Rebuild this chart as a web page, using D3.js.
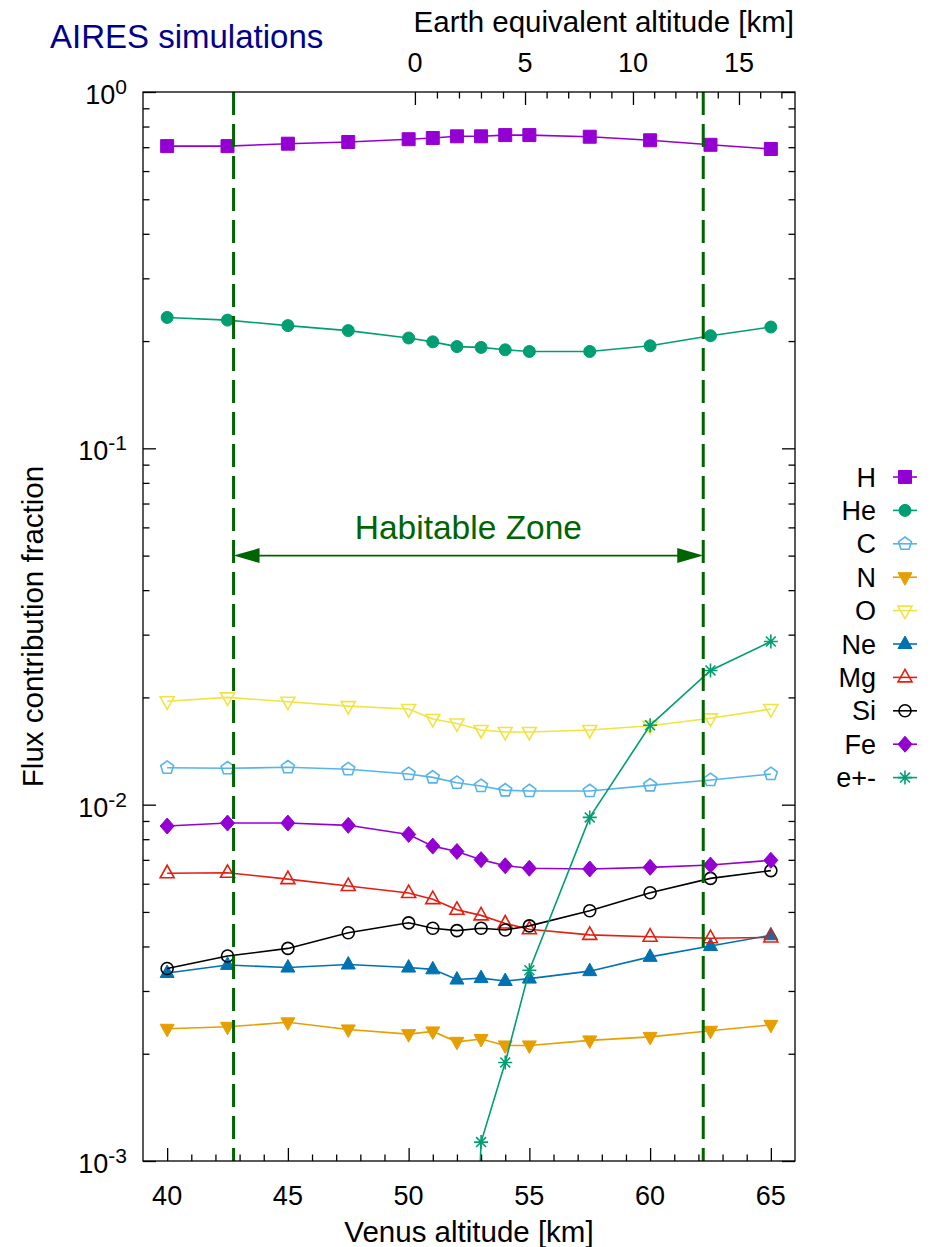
<!DOCTYPE html>
<html>
<head>
<meta charset="utf-8">
<script src="https://cdn.jsdelivr.net/npm/d3@7"></script>
<style>
    body { margin: 0; background: #fff; }
    svg { display: block; font-family: "Liberation Sans", Arial, sans-serif; }
</style>
</head>
<body>
<div class="chartCanvas"></div>
<script>
// values (flux contribution fraction per species)
const venusAltitude = [40, 42.5, 45, 47.5, 50, 51, 52, 53, 54, 55, 57.5, 60, 62.5, 65];
const fracH = [0.705, 0.705, 0.716, 0.724, 0.737, 0.743, 0.751, 0.751, 0.757, 0.757, 0.749, 0.732, 0.711, 0.692];
const fracHe = [0.233, 0.229, 0.221, 0.214, 0.204, 0.199, 0.193, 0.192, 0.189, 0.187, 0.187, 0.194, 0.207, 0.219];
const fracC = [0.0127, 0.01265, 0.01273, 0.01257, 0.01219, 0.01193, 0.01152, 0.01128, 0.01097, 0.01092, 0.01092, 0.01133, 0.01173, 0.01219];
const fracN = [0.00235, 0.00238, 0.00245, 0.00234, 0.00227, 0.00231, 0.00216, 0.0022, 0.00211, 0.00211, 0.00218, 0.00223, 0.00232, 0.00241];
const fracO = [0.0195, 0.0200, 0.01945, 0.0189, 0.01855, 0.0174, 0.0169, 0.0162, 0.0160, 0.0160, 0.0162, 0.01665, 0.01747, 0.01855];
const fracNe = [0.00337, 0.00355, 0.00349, 0.00356, 0.00349, 0.00345, 0.00323, 0.00326, 0.0032, 0.00325, 0.00341, 0.00374, 0.00401, 0.0043];
const fracMg = [0.00642, 0.00644, 0.00618, 0.00591, 0.00565, 0.00543, 0.00507, 0.00489, 0.00464, 0.00447, 0.00431, 0.00426, 0.00422, 0.00424];
const fracSi = [0.00347, 0.00376, 0.00395, 0.00437, 0.00466, 0.0045, 0.00443, 0.0045, 0.00445, 0.00457, 0.00504, 0.00566, 0.00621, 0.00653];
const fracFe = [0.00871, 0.00888, 0.00888, 0.00875, 0.00825, 0.00765, 0.00739, 0.00701, 0.00674, 0.00663, 0.0066, 0.00667, 0.00677, 0.00698];
const positronAltitude = [52, 53, 54, 55, 57.5, 60, 62.5, 65];
const fracPositron = [0.00002, 0.00113, 0.00189, 0.00343, 0.00921, 0.0167, 0.0238, 0.0287];

const speciesNames = ["H", "He", "C", "N", "O", "Ne", "Mg", "Si", "Fe", "e+-"];
const speciesColors = ["#9400d3", "#009e73", "#56b4e9", "#e69f00", "#f0e442", "#0072b2", "#e51e10", "#000000", "#9400d3", "#009e73"];
const speciesMarkers = ["square", "circle", "pentagon", "triangleDown", "triangleDown", "triangle", "triangle", "circle", "diamond", "star"];
const speciesFilled = [true, true, false, true, false, true, false, false, true, false];

const venusMajorTicks = [40, 45, 50, 55, 60, 65];
const fracMajorTicks = [1e-3, 1e-2, 1e-1, 1];
const fracTickExponents = ["-3", "-2", "-1", "0"];
// earth equivalent altitude vs venus altitude (top axis)
const earthKm = [0, 5, 10, 15];
const earthVenusKm = [50.26, 54.82, 59.29, 63.68];
const earthMajorTicks = [0, 5, 10, 15];

const habitableZone = [42.75, 62.2];
const habitableArrowFrac = 0.05;
const habitableLabelFrac = 0.06;

class FluxChart {

    static width = 943;
    static height = 1247;
    static plotLeft = 143;
    static plotRight = 795;
    static plotTop = 92;
    static plotBottom = 1161;
    static zoneColor = "#006400";

    svg;
    x;
    y;

    constructor() {
        this.svg = d3.select(".chartCanvas")
            .append("svg")
            .attr("width", FluxChart.width)
            .attr("height", FluxChart.height);
        this.x = d3.scaleLinear().domain([39, 66]).range([FluxChart.plotLeft, FluxChart.plotRight]);
        this.y = d3.scaleLog().domain([1e-3, 1]).range([FluxChart.plotBottom, FluxChart.plotTop]);
        this.svg.append("clipPath").attr("id", "plotClip")
            .append("rect")
            .attr("x", FluxChart.plotLeft).attr("y", FluxChart.plotTop)
            .attr("width", FluxChart.plotRight - FluxChart.plotLeft)
            .attr("height", FluxChart.plotBottom - FluxChart.plotTop);
    }

    static markerPath(kind) {
        const p = d3.path();
        if (kind === "square") {
            p.rect(-6.5, -6.5, 13, 13);
        } else if (kind === "circle") {
            p.arc(0, 0, 6, 0, 2 * Math.PI);
        } else if (kind === "triangle") {
            p.moveTo(0, -8); p.lineTo(7, 4.5); p.lineTo(-7, 4.5); p.closePath();
        } else if (kind === "triangleDown") {
            p.moveTo(0, 8); p.lineTo(7, -4.5); p.lineTo(-7, -4.5); p.closePath();
        } else if (kind === "diamond") {
            p.moveTo(0, -8); p.lineTo(7, 0); p.lineTo(0, 8); p.lineTo(-7, 0); p.closePath();
        } else if (kind === "pentagon") {
            for (let i = 0; i < 5; i++) {
                const a = -Math.PI / 2 + i * 2 * Math.PI / 5;
                const px = 6.8 * Math.cos(a), py = 6.8 * Math.sin(a);
                if (i === 0) p.moveTo(px, py); else p.lineTo(px, py);
            }
            p.closePath();
        } else if (kind === "star") {
            for (let i = 0; i < 4; i++) {
                const a = i * Math.PI / 4;
                p.moveTo(-7 * Math.cos(a), -7 * Math.sin(a));
                p.lineTo(7 * Math.cos(a), 7 * Math.sin(a));
            }
        }
        return p.toString();
    }

    drawMarker(g, i, cx, cy) {
        const filled = speciesFilled[i];
        g.append("path")
            .attr("d", FluxChart.markerPath(speciesMarkers[i]))
            .attr("transform", `translate(${cx},${cy})`)
            .attr("fill", filled ? speciesColors[i] : "none")
            .attr("stroke", speciesColors[i])
            .attr("stroke-width", filled ? 1 : 1.6);
    }

    drawAxes() {
        const g = this.svg.append("g").attr("stroke-width", 1.3);
        const noDomain = a => a.select(".domain").remove();
        const minorVenus = d3.range(40, 66).filter(v => !venusMajorTicks.includes(v));
        const minorFrac = [];
        fracMajorTicks.slice(0, 3).forEach(d => d3.range(2, 10).forEach(k => minorFrac.push(d * k)));

        g.append("g").attr("transform", `translate(0,${FluxChart.plotBottom})`)
            .call(d3.axisBottom(this.x).tickValues(venusMajorTicks).tickSize(-13).tickFormat("")).call(noDomain);
        g.append("g").attr("transform", `translate(0,${FluxChart.plotBottom})`)
            .call(d3.axisBottom(this.x).tickValues(minorVenus).tickSize(-6.5).tickFormat("")).call(noDomain);
        [[d3.axisLeft, FluxChart.plotLeft], [d3.axisRight, FluxChart.plotRight]].forEach(([axis, pos]) => {
            g.append("g").attr("transform", `translate(${pos},0)`)
                .call(axis(this.y).tickValues(fracMajorTicks).tickSize(-13).tickFormat("")).call(noDomain);
            g.append("g").attr("transform", `translate(${pos},0)`)
                .call(axis(this.y).tickValues(minorFrac).tickSize(-6.5).tickFormat("")).call(noDomain);
        });

        // top axis: earth equivalent altitude
        const earth = d3.scaleLinear().domain(earthKm).range(earthVenusKm.map(v => this.x(v)));
        const earthTicks = d3.range(0, 18);
        g.append("g").attr("transform", `translate(0,${FluxChart.plotTop})`)
            .call(d3.axisTop(earth).tickValues(earthMajorTicks).tickSize(-13).tickFormat("")).call(noDomain);
        g.append("g").attr("transform", `translate(0,${FluxChart.plotTop})`)
            .call(d3.axisTop(earth).tickValues(earthTicks.filter(e => !earthMajorTicks.includes(e))).tickSize(-6.5).tickFormat("")).call(noDomain);

        this.svg.append("rect")
            .attr("x", FluxChart.plotLeft).attr("y", FluxChart.plotTop)
            .attr("width", FluxChart.plotRight - FluxChart.plotLeft)
            .attr("height", FluxChart.plotBottom - FluxChart.plotTop)
            .attr("fill", "none").attr("stroke", "#000").attr("stroke-width", 1.3);

        // tick labels
        const labels = this.svg.append("g").attr("font-size", 27).attr("fill", "#000");
        labels.selectAll(".xLabel").data(venusMajorTicks).join("text")
            .attr("x", d => this.x(d)).attr("y", 1205)
            .attr("text-anchor", "middle").text(d => d);
        labels.selectAll(".x2Label").data(earthMajorTicks).join("text")
            .attr("x", d => earth(d)).attr("y", 72)
            .attr("text-anchor", "middle").text(d => d);
        const yl = labels.selectAll(".yLabel").data(fracMajorTicks).join("text")
            .attr("x", 127).attr("y", d => this.y(d) + 12)
            .attr("text-anchor", "end");
        yl.append("tspan").text("10");
        yl.append("tspan").attr("font-size", 21).attr("dy", -10).text((d, i) => fracTickExponents[i]);

        const titles = this.svg.append("g").attr("font-size", 29.5).attr("fill", "#000");
        titles.append("text")
            .attr("x", (FluxChart.plotLeft + FluxChart.plotRight) / 2).attr("y", 1242)
            .attr("text-anchor", "middle").text("Venus altitude [km]");
        titles.append("text")
            .attr("x", 794).attr("y", 32)
            .attr("text-anchor", "end").text("Earth equivalent altitude [km]");
        titles.append("text")
            .attr("transform", `translate(43,${(FluxChart.plotTop + FluxChart.plotBottom) / 2}) rotate(-90)`)
            .attr("text-anchor", "middle").text("Flux contribution fraction");
        this.svg.append("text")
            .attr("x", 50).attr("y", 48).attr("font-size", 33).attr("fill", "#00008b")
            .text("AIRES simulations");
    }

    drawSeries() {
        const allFrac = [fracH, fracHe, fracC, fracN, fracO, fracNe, fracMg, fracSi, fracFe, fracPositron];
        const plot = this.svg.append("g").attr("clip-path", "url(#plotClip)");
        const line = d3.line().x(d => this.x(d[0])).y(d => this.y(d[1]));
        allFrac.forEach((values, i) => {
            const alts = values === fracPositron ? positronAltitude : venusAltitude;
            const pts = alts.map((a, k) => [a, values[k]]);
            const g = plot.append("g");
            g.append("path").attr("d", line(pts))
                .attr("fill", "none").attr("stroke", speciesColors[i]).attr("stroke-width", 1.6);
            pts.forEach(p => this.drawMarker(g, i, this.x(p[0]), this.y(p[1])));
        });
    }

    drawHabitableZone() {
        const g = this.svg.append("g");
        const c = FluxChart.zoneColor;
        habitableZone.forEach(v => {
            g.append("line")
                .attr("x1", this.x(v)).attr("x2", this.x(v))
                .attr("y1", FluxChart.plotTop).attr("y2", FluxChart.plotBottom)
                .attr("stroke", c).attr("stroke-width", 3).attr("stroke-dasharray", "23,9");
        });
        const ay = this.y(habitableArrowFrac);
        const x0 = this.x(habitableZone[0]), x1 = this.x(habitableZone[1]);
        g.append("line").attr("x1", x0 + 20).attr("x2", x1 - 20).attr("y1", ay).attr("y2", ay)
            .attr("stroke", c).attr("stroke-width", 1.6);
        g.append("path").attr("d", `M${x0},${ay}L${x0 + 26},${ay - 7.5}L${x0 + 26},${ay + 7.5}Z`).attr("fill", c);
        g.append("path").attr("d", `M${x1},${ay}L${x1 - 26},${ay - 7.5}L${x1 - 26},${ay + 7.5}Z`).attr("fill", c);
        g.append("text")
            .attr("x", (x0 + x1) / 2).attr("y", this.y(habitableLabelFrac) + 12)
            .attr("text-anchor", "middle").attr("font-size", 33.5).attr("fill", c)
            .text("Habitable Zone");
    }

    drawLegend() {
        const g = this.svg.append("g");
        speciesNames.forEach((name, i) => {
            const ry = 477 + i * 33.4;
            g.append("text").attr("x", 876).attr("y", ry + 9.5)
                .attr("text-anchor", "end").attr("font-size", 27).text(name);
            g.append("line").attr("x1", 893).attr("x2", 917).attr("y1", ry).attr("y2", ry)
                .attr("stroke", speciesColors[i]).attr("stroke-width", 1.6);
            this.drawMarker(g, i, 905, ry);
        });
    }

    static launch() {
        const chart = new FluxChart();
        chart.drawSeries();
        chart.drawHabitableZone();
        chart.drawAxes();
        chart.drawLegend();
    }
}

FluxChart.launch();
</script>
</body>
</html>
